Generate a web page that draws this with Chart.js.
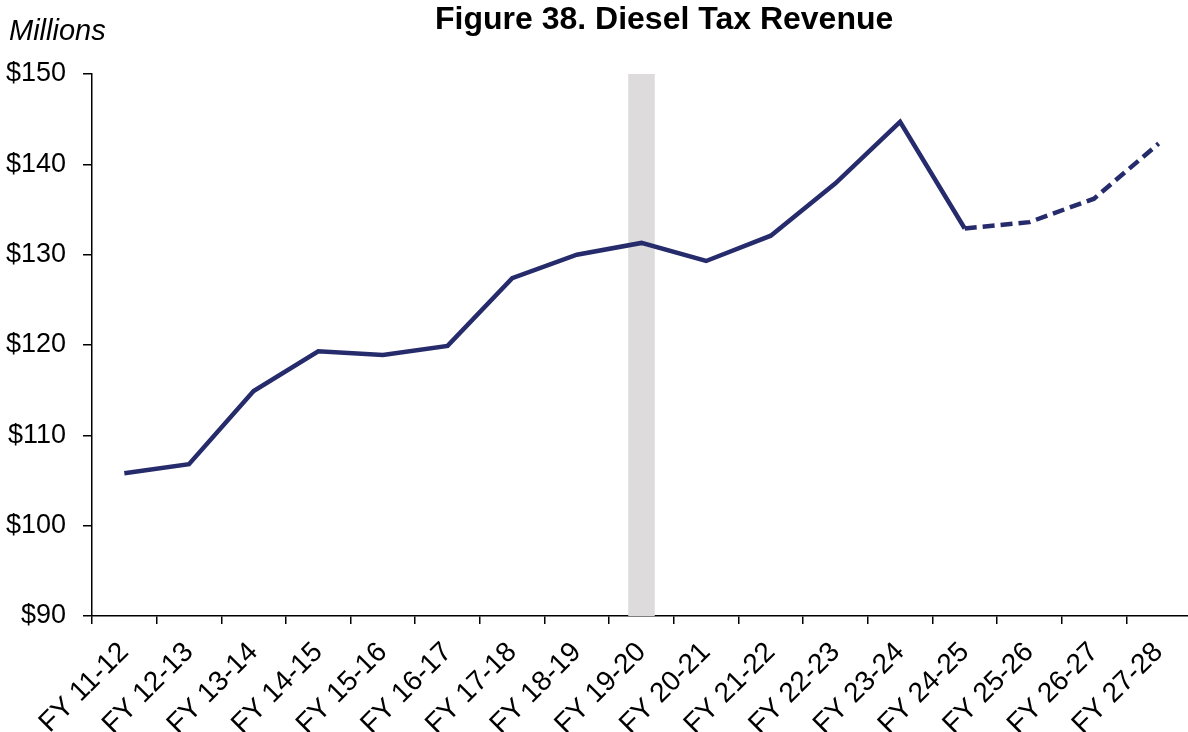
<!DOCTYPE html>
<html>
<head>
<meta charset="utf-8">
<title>Diesel Tax Revenue</title>
<script src="https://cdn.jsdelivr.net/npm/chart.js@4.4.1/dist/chart.umd.min.js"></script>
<style>
    html, body { margin: 0; padding: 0; background: #fff; overflow: hidden; }
    .wrap { position: relative; width: 1188px; height: 732px; }
    #dieselChart { position: absolute; left: 0; top: 0; }
    .chart-title {
        position: absolute; left: 435px; top: 2px;
        font: bold 32px "Liberation Sans", Arial, sans-serif; line-height: 32px;
        color: #000; white-space: nowrap;
    }
    .unit-label {
        position: absolute; left: 9px; top: 16px;
        font: italic 29px "Liberation Sans", Arial, sans-serif; line-height: 29px;
        color: #000;
    }
</style>
</head>
<body>
<div class="wrap">
    <canvas id="dieselChart" width="1192" height="732"></canvas>
    <div class="chart-title">Figure 38. Diesel Tax Revenue</div>
    <div class="unit-label">Millions</div>
</div>
<script>
// --- DATA ---
const fiscalYears = ['FY 11-12', 'FY 12-13', 'FY 13-14', 'FY 14-15', 'FY 15-16', 'FY 16-17',
    'FY 17-18', 'FY 18-19', 'FY 19-20', 'FY 20-21', 'FY 21-22', 'FY 22-23',
    'FY 23-24', 'FY 24-25', 'FY 25-26', 'FY 26-27', 'FY 27-28'];

// revenue in $ millions
const revenue = [105.8, 106.8, 114.9, 119.3, 118.9, 119.9, 127.4, 130.0, 131.3,
    129.3, 132.1, 137.9, 144.7, 132.9, 133.6, 136.2, 142.3];

// projections start after this year (dashed from here on)
const lastActualYear = 'FY 24-25';

// shaded year(s)
const shadedYears = ['FY 19-20'];

const yTicks = [90, 100, 110, 120, 130, 140, 150];

// --- STYLE ---
const NAVY = '#262b6b';
const BAND = '#dddbdc';
const FONT = '"Liberation Sans", Arial, sans-serif';

const forecastIdx = fiscalYears.indexOf(lastActualYear);
const yMin = yTicks[0];
const yMax = yTicks[yTicks.length - 1];
const bandData = fiscalYears.map(y => shadedYears.includes(y) ? yMax : null);

// fixed plot box so the axes line up with the page layout
const fixWidth = (w) => (scale) => { scale.width = w; };
const fixHeight = (h) => (scale) => {
    scale.height = h;
    scale.paddingLeft = 0;
    scale.paddingRight = 0;
};

new Chart(document.getElementById('dieselChart'), {
    type: 'line',
    data: {
        labels: fiscalYears,
        datasets: [
            {
                type: 'line',
                label: 'Diesel Tax Revenue',
                data: revenue,
                borderColor: NAVY,
                borderWidth: 4.5,
                pointRadius: 0,
                tension: 0,
                fill: false,
                order: 1,
                segment: {
                    borderDash: ctx => ctx.p0DataIndex >= forecastIdx ? [12, 6] : undefined
                }
            },
            {
                type: 'bar',
                label: 'Shaded',
                data: bandData,
                backgroundColor: BAND,
                barPercentage: 0.41,
                categoryPercentage: 1,
                order: 2
            }
        ]
    },
    options: {
        responsive: false,
        animation: false,
        layout: { padding: { top: 74, right: 1, left: 0, bottom: 0 } },
        plugins: {
            legend: { display: false },
            title: { display: false },
            tooltip: { enabled: false }
        },
        scales: {
            x: {
                type: 'category',
                offset: true,
                afterFit: fixHeight(116),
                grid: {
                    offset: true,
                    drawOnChartArea: false,
                    drawTicks: true,
                    tickLength: 8,
                    color: '#000',
                    lineWidth: 1.5
                },
                border: { display: true, color: '#000', width: 1.5 },
                ticks: {
                    autoSkip: false,
                    maxRotation: 45,
                    minRotation: 45,
                    padding: 12,
                    color: '#000',
                    font: { family: FONT, size: 28 }
                }
            },
            y: {
                min: yMin,
                max: yMax,
                afterFit: fixWidth(92),
                afterBuildTicks: (scale) => { scale.ticks = yTicks.map(v => ({ value: v })); },
                grid: {
                    drawOnChartArea: false,
                    drawTicks: true,
                    tickLength: 9,
                    color: '#000',
                    lineWidth: 1.5
                },
                border: { display: true, color: '#000', width: 1.5 },
                ticks: {
                    padding: 17,
                    color: '#000',
                    font: { family: FONT, size: 27 },
                    callback: v => '$' + v
                }
            }
        }
    }
});
</script>
</body>
</html>
